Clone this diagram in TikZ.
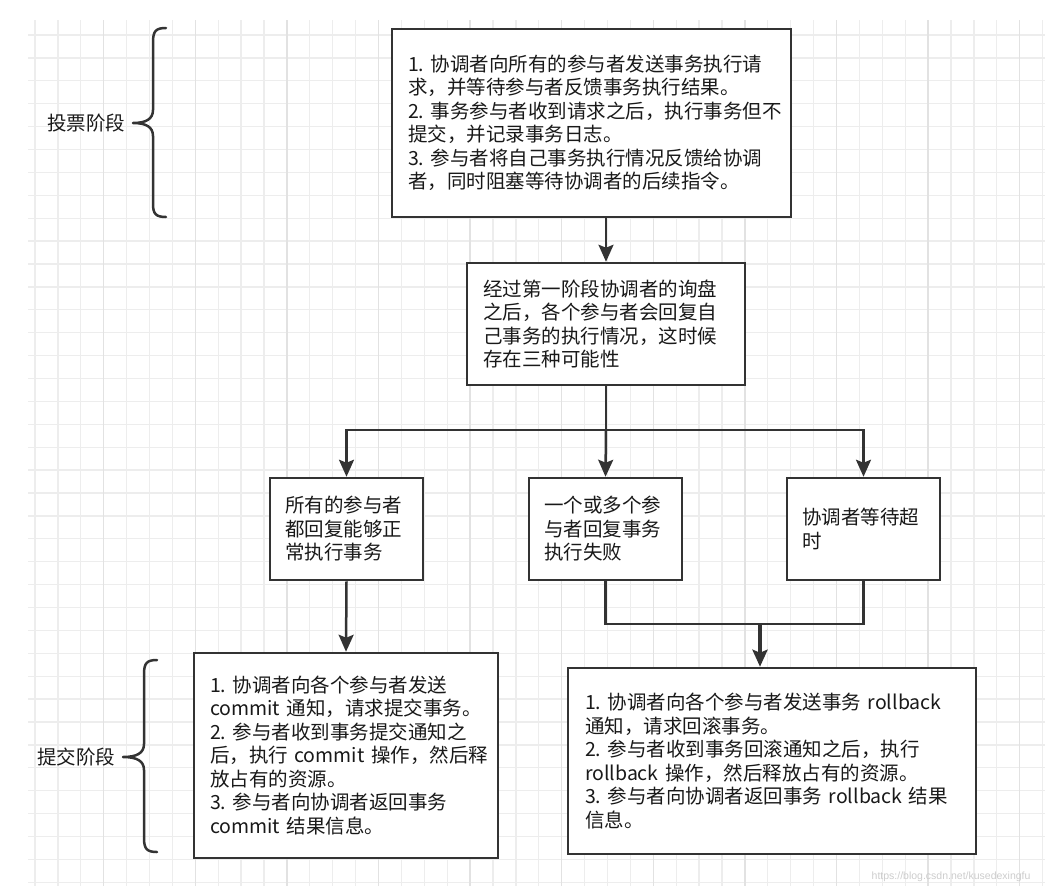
\documentclass[tikz,border=0pt]{standalone}
\usepackage{fontspec}
\setmainfont{Noto Sans CJK SC}
\newfontfamily\wmfont{Liberation Sans}
\usetikzlibrary{arrows.meta}
\definecolor{linecol}{HTML}{333333}
\definecolor{gridcol}{HTML}{EDEDED}
\definecolor{gridmajor}{HTML}{E2E2E2}
\frenchspacing
\begin{document}
\begin{tikzpicture}[x=1pt,y=-1pt,
	every node/.style={font=\fontsize{19.5}{23.5}\selectfont, text=black!90},
	box/.style={draw=linecol, line width=2.5pt, fill=white, align=left, inner ysep=0pt, inner xsep=16pt},
	link/.style={draw=linecol, line width=2.5pt},
	arrow/.style={link, -{Stealth[length=17pt,width=15pt,inset=3pt]}},
	brace/.style={draw=linecol, line width=2.5pt, line cap=round, line join=round},
	gridline/.style={draw=gridcol, line width=1.3pt}]
		\useasboundingbox (0,0) rectangle (1051,886);
		% Raster
		\foreach \k in {0,...,44}
		\draw[gridline] ({35+22.9*\k},20) -- ({35+22.9*\k},886);
		\foreach \k in {0,...,37}
		\draw[gridline] (28,{35+22.9*\k}) -- (1045,{35+22.9*\k});
		\foreach \k in {3,7,...,43}
		\draw[gridline, draw=gridmajor] ({35+22.9*\k},20) -- ({35+22.9*\k},886);
		% Klammern mit Phasen
		\draw[brace] (166,28) .. controls (156,28) and (153,31) .. (153,42) -- (153,110)
			.. controls (153,119) and (146,123) .. (133,123) .. controls (146,123) and (153,127) .. (153,136)
			-- (153,204) .. controls (153,214) and (156,217) .. (166,217);
		\node (votephase) at (86,123) {投票阶段};
		\draw[brace] (157,660) .. controls (147,660) and (144,663) .. (144,674) -- (144,744)
			.. controls (144,753) and (137,757) .. (123,757) .. controls (137,757) and (144,761) .. (144,770)
			-- (144,838) .. controls (144,849) and (147,852) .. (157,852);
		\node (commitphase) at (76,757) {提交阶段};
		% Kaesten
		\node[box, text width=367pt, minimum height=188pt] (vote) at (591.5,123)
			{1. 协调者向所有的参与者发送事务执行请\\求，并等待参与者反馈事务执行结果。\\2. 事务参与者收到请求之后，执行事务但不\\提交，并记录事务日志。\\3. 参与者将自己事务执行情况反馈给协调\\者，同时阻塞等待协调者的后续指令。};
		\node[box, text width=246pt, minimum height=122pt] (inquiry) at (606,324)
			{经过第一阶段协调者的询盘\\之后，各个参与者会回复自\\己事务的执行情况，这时候\\存在三种可能性};
		\node[box, text width=123pt, inner xsep=15pt, minimum height=102pt] (allok) at (346.5,529)
			{所有的参与者\\都回复能够正\\常执行事务};
		\node[box, text width=123pt, inner xsep=15pt, minimum height=102pt] (somefail) at (605.5,529)
			{一个或多个参\\与者回复事务\\执行失败};
		\node[box, text width=123pt, inner xsep=15pt, minimum height=102pt] (timeout) at (863.5,529)
			{协调者等待超\\时};
		\node[box, text width=272pt, minimum height=205pt] (commit) at (346,755.5)
			{1. 协调者向各个参与者发送\\commit 通知，请求提交事务。\\2. 参与者收到事务提交通知之\\\mbox{后，执行 commit 操作，然后释}\\放占有的资源。\\3. 参与者向协调者返回事务\\commit 结果信息。};
		\node[box, text width=374pt, inner xsep=17pt, minimum height=186pt] (rollback) at (772,761)
			{1. 协调者向各个参与者发送事务 rollback\\通知，请求回滚事务。\\2. 参与者收到事务回滚通知之后，执行\\rollback 操作，然后释放占有的资源。\\3. 参与者向协调者返回事务 rollback 结果\\信息。};
		% Pfeile
		\coordinate (split) at (606,430);
		\coordinate (merge) at (760,624);
		\draw[arrow] (vote.south -| inquiry.north) -- (inquiry.north);
		\draw[link] (inquiry.south) -- (split);
		\draw[arrow] (split) -| (allok.north);
		\draw[arrow] (split) -- (somefail.north);
		\draw[arrow] (split) -| (timeout.north);
		\draw[arrow] (allok.south) -- (commit.north);
		\draw[link] (somefail.south) |- (merge);
		\draw[link] (timeout.south) |- (merge);
		\draw[arrow, line width=4.5pt] (merge) -- (merge |- rollback.north);
		% Wasserzeichen
		\node[font=\wmfont\fontsize{10.5}{12}\selectfont, text=gray!40, anchor=east] (watermark) at (1034,877) {https://blog.csdn.net/kusedexingfu};
	\end{tikzpicture}
\end{document}
